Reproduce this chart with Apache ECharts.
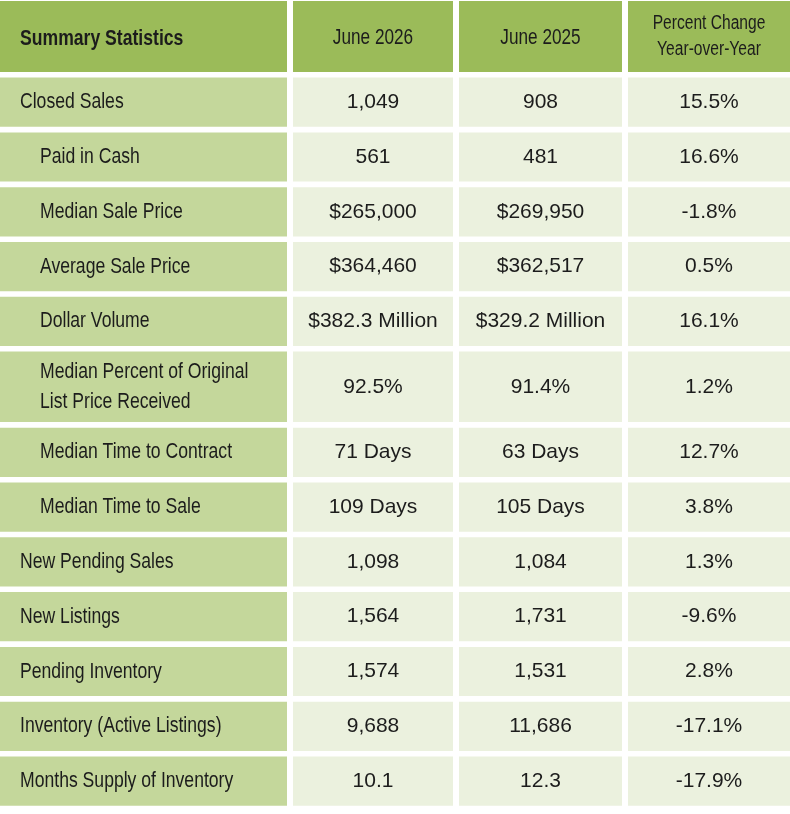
<!DOCTYPE html>
<html style="height: 100%; width: 100%">
<head>
  <meta charset="utf-8" />
</head>
<body style="height: 100%; width: 100%; margin: 0; background: #ffffff;">
  <div id="chart-panel" style="height: 814px; width: 790px;"></div>
  <script type="text/javascript" src="https://cdn.jsdelivr.net/npm/echarts@6.0.0/dist/echarts.min.js"></script>
  <script type="text/javascript">
    // table content
    var headers = ["Summary Statistics", "June 2026", "June 2025", "Percent Change\nYear-over-Year"];
    var metrics = [
      "Closed Sales",
      "Paid in Cash",
      "Median Sale Price",
      "Average Sale Price",
      "Dollar Volume",
      "Median Percent of Original\nList Price Received",
      "Median Time to Contract",
      "Median Time to Sale",
      "New Pending Sales",
      "New Listings",
      "Pending Inventory",
      "Inventory (Active Listings)",
      "Months Supply of Inventory"
    ];
    var subMetric = [0, 1, 1, 1, 1, 1, 1, 1, 0, 0, 0, 0, 0]; // 1 = indented under Closed Sales
    var june2026 = ["1,049", "561", "$265,000", "$364,460", "$382.3 Million", "92.5%", "71 Days", "109 Days", "1,098", "1,564", "1,574", "9,688", "10.1"];
    var june2025 = ["908", "481", "$269,950", "$362,517", "$329.2 Million", "91.4%", "63 Days", "105 Days", "1,084", "1,731", "1,531", "11,686", "12.3"];
    var pctChange = ["15.5%", "16.6%", "-1.8%", "0.5%", "16.1%", "1.2%", "12.7%", "3.8%", "1.3%", "-9.6%", "2.8%", "-17.1%", "-17.9%"];

    // layout (axis units = pixels)
    var colEdges = [[0, 287], [293, 453], [459, 622], [628, 790]];
    var rowHeights = [71, 49.2, 49.2, 49.2, 49.2, 49.2, 70.5, 49.2, 49.2, 49.2, 49.2, 49.2, 49.2, 49.2];
    var rowGap = 5.6;
    var rowEdges = [];
    var yTop = 1;
    rowHeights.forEach(function (h) {
      rowEdges.push([yTop, yTop + h]);
      yTop += h + rowGap;
    });

    var sans = "'Liberation Sans', Arial, sans-serif";
    var narrowScale = 0.8; // no narrow face installed, squeeze Liberation Sans instead

    // cells: [col, row, text]
    var cells = [];
    headers.forEach(function (h, c) { cells.push([c, 0, h]); });
    metrics.forEach(function (m, i) {
      cells.push([0, i + 1, m]);
      cells.push([1, i + 1, june2026[i]]);
      cells.push([2, i + 1, june2025[i]]);
      cells.push([3, i + 1, pctChange[i]]);
    });

    function renderCell(params, api) {
      var c = api.value(0);
      var r = api.value(1);
      var text = cells[params.dataIndex][2];
      var p0 = api.coord([colEdges[c][0], rowEdges[r][0]]);
      var p1 = api.coord([colEdges[c][1], rowEdges[r][1]]);
      var x0 = Math.min(p0[0], p1[0]), x1 = Math.max(p0[0], p1[0]);
      var y0 = Math.min(p0[1], p1[1]), y1 = Math.max(p0[1], p1[1]);
      var fill = r === 0 ? "#9bbb59" : (c === 0 ? "#c4d79b" : "#ebf1de");
      var font, tx, align, lh = 30, sx = narrowScale;
      if (c === 0) {
        align = "left";
        tx = x0 + (r > 0 && subMetric[r - 1] ? 40 : 20);
        font = (r === 0 ? "bold " : "") + "22px " + sans;
      } else {
        align = "center";
        tx = (x0 + x1) / 2;
        if (r === 0) {
          font = (c === 3 ? "19.5px " : "21.5px ") + sans;
          lh = 26;
        } else {
          font = "21px " + sans;
          sx = 1;
        }
      }
      var ty = (y0 + y1) / 2 + (r === 0 && c < 3 ? 2 : 0);
      return {
        type: "group",
        children: [
          {
            type: "rect",
            shape: { x: x0, y: y0, width: x1 - x0, height: y1 - y0 },
            style: { fill: fill }
          },
          {
            type: "text",
            x: tx,
            y: ty,
            scaleX: sx,
            style: {
              text: text,
              x: 0,
              y: 0,
              align: align,
              verticalAlign: "middle",
              font: font,
              lineHeight: lh,
              fill: "#1c1c1c"
            }
          }
        ]
      };
    }

    var myChart = echarts.init(document.getElementById("chart-panel"));
    var option = {
      animation: false,
      backgroundColor: "#ffffff",
      grid: { left: 0, right: 0, top: 0, bottom: 0 },
      xAxis: { type: "value", min: 0, max: 790, show: false },
      yAxis: { type: "value", min: 0, max: 814, inverse: true, show: false },
      series: [
        {
          type: "custom",
          renderItem: renderCell,
          data: cells.map(function (d) { return [d[0], d[1]]; }),
          clip: false,
          silent: true
        }
      ]
    };
    myChart.setOption(option);
  </script>
</body>
</html>
